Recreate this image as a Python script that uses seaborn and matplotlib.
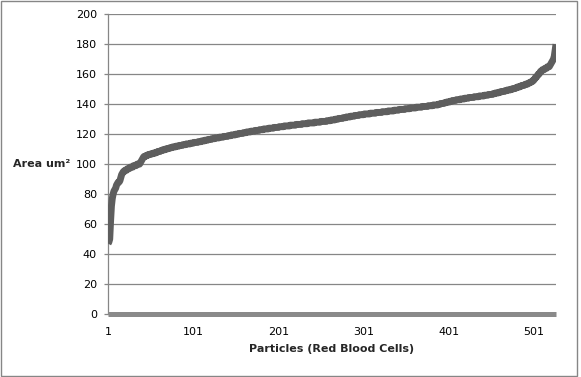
import numpy as np
import pandas as pd
import matplotlib
matplotlib.use("Agg")
from matplotlib import pyplot as plt
from matplotlib.patches import Rectangle
import seaborn as sns

# frequency table of measured particle areas (um^2) -> number of particles
low_areas = [47, 48, 50, 62, 72, 77, 80, 82, 83, 84, 86, 87, 88, 89, 91, 93, 94, 95, 96, 97,
             98, 99, 100, 101, 102, 103, 104]
low_counts = [1, 1, 1, 1, 1, 1, 1, 1, 1, 1, 1, 1, 2, 1, 1, 1, 1, 2, 3, 3,
              4, 4, 4, 1, 1, 1, 1]
mid_areas = [105, 105.5, 106, 106.5, 107, 107.5, 108, 108.5, 109, 109.5,
             110, 110.5, 111, 111.5, 112, 112.5, 113, 113.5, 114, 114.5,
             115, 115.5, 116, 116.5, 117, 117.5, 118, 118.5, 119, 119.5,
             120, 120.5, 121, 121.5, 122, 122.5, 123, 123.5, 124, 124.5,
             125, 125.5, 126, 126.5, 127, 127.5, 128, 128.5, 129, 129.5,
             130, 130.5, 131, 131.5, 132, 132.5, 133, 133.5, 134, 134.5,
             135, 135.5, 136, 136.5, 137, 137.5, 138, 138.5, 139, 139.5,
             140, 140.5, 141, 141.5, 142, 142.5, 143, 143.5, 144, 144.5,
             145, 145.5, 146, 146.5, 147, 147.5, 148, 148.5, 149, 149.5,
             150, 150.5, 151, 151.5, 152, 152.5, 153, 153.5, 154, 154.5]
mid_counts = [2, 2, 2, 3, 3, 3, 2, 3, 2, 3,
              3, 3, 3, 4, 4, 4, 4, 5, 4, 5,
              4, 4, 4, 4, 4, 5, 5, 5, 4, 5,
              4, 5, 4, 5, 5, 5, 5, 6, 6, 6,
              6, 7, 7, 7, 7, 8, 7, 7, 5, 5,
              4, 5, 4, 5, 5, 5, 6, 7, 7, 7,
              7, 7, 6, 7, 6, 7, 7, 7, 6, 6,
              3, 4, 3, 4, 3, 4, 5, 5, 5, 6,
              6, 6, 5, 5, 3, 4, 3, 4, 3, 4,
              3, 3, 2, 3, 2, 3, 2, 3, 1, 2]
high_areas = [155, 156, 157, 158, 159, 160, 161, 162, 163, 164, 165, 166, 167, 168, 169,
              170, 172, 176, 180]
high_counts = [2, 2, 1, 2, 1, 2, 1, 2, 3, 3, 3, 1, 1, 1, 1,
               1, 1, 1, 1]
x_ticks = [1, 101, 201, 301, 401, 501]
y_ticks = list(range(0, 201, 20))

areas = np.concatenate([np.repeat(low_areas, low_counts),
                        np.repeat(mid_areas, mid_counts),
                        np.repeat(high_areas, high_counts)])
df = pd.DataFrame({"particle": np.arange(1, len(areas) + 1), "area": np.sort(areas)})

sns.set_style("white")
plt.rcParams["font.family"] = ["DejaVu Sans"]
plt.rcParams["path.simplify"] = False

W, H = 581, 377
fig = plt.figure(figsize=(W / 100, H / 100), dpi=100)
ax = fig.add_axes([108 / W, 1 - 314 / H, (556 - 108) / W, (314 - 14.3) / H])

grid_col = "#868686"
sns.lineplot(data=df, x="particle", y="area", ax=ax, color="#5e5e5e", linewidth=5,
             solid_capstyle="butt", solid_joinstyle="round", zorder=3)

ax.set_xlim(1, len(areas))
ax.set_ylim(0, 200)
ax.set_yticks(y_ticks)
ax.set_xticks(x_ticks)
ax.yaxis.grid(True, color=grid_col, linewidth=0.9)
ax.set_axisbelow(True)

for s in ["top", "right"]:
    ax.spines[s].set_visible(False)
ax.spines["left"].set_color(grid_col)
ax.spines["left"].set_linewidth(0.9)
ax.spines["bottom"].set_color("#8a8a8a")
ax.spines["bottom"].set_linewidth(3.6)
ax.spines["bottom"].set_capstyle("butt")
ax.spines["bottom"].set_zorder(4)

ax.tick_params(axis="y", left=True, length=3, width=0.9, color=grid_col, pad=5,
               labelsize=8, labelcolor="black")
ax.tick_params(axis="x", bottom=False, pad=6, labelsize=8, labelcolor="black")

ax.set_xlabel("Particles (Red Blood Cells)", fontsize=8, fontweight="bold", labelpad=5)
ax.set_ylabel("Area um\u00b2", fontsize=8, fontweight="bold", rotation=0,
              ha="right", va="center")
ax.yaxis.set_label_coords(-0.085, 0.5)

fig.patches.append(Rectangle((0.5 / W, 1 / H), 576.5 / W, 375.5 / H, transform=fig.transFigure,
                             fill=False, edgecolor=grid_col, linewidth=1))

fig.savefig("out.png", dpi=100)
